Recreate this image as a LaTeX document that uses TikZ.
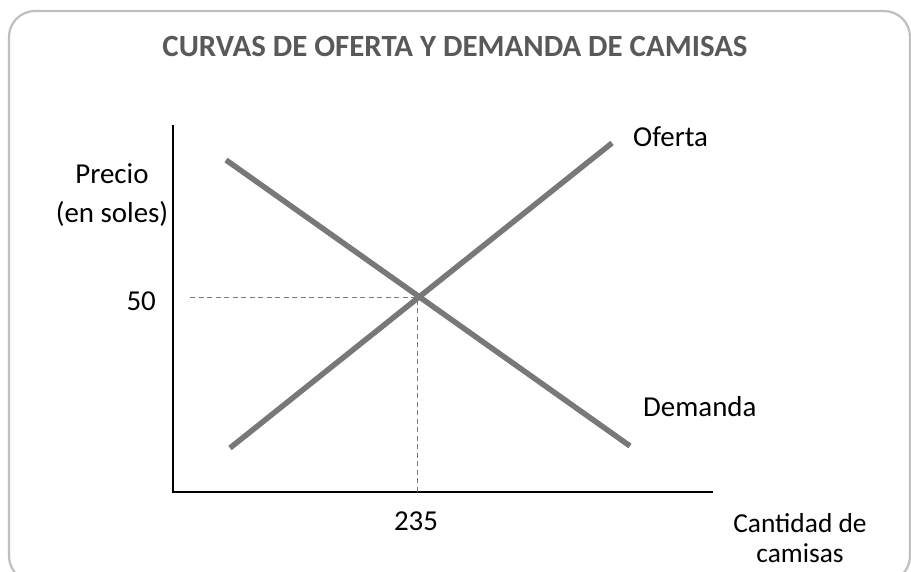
\documentclass[tikz,border=0pt]{standalone}
\usepackage{fontspec}
\setmainfont{Carlito}
\usetikzlibrary{arrows}
\tikzset{>=latex}
\definecolor{curveColour}{RGB}{120,120,120}
\definecolor{titleColour}{RGB}{89,89,89}
\definecolor{frameColour}{RGB}{191,191,191}
\tikzset{
	curve/.style={draw=curveColour, line width=5.5bp},
	guide/.style={draw=curveColour, line width=0.9bp, dash pattern=on 5bp off 3.5bp},
	lbl/.style={inner sep=0pt, font=\fontsize{29}{33}\selectfont}
}
\begin{document}
\begin{tikzpicture}[x=1bp, y=-1bp]
		\useasboundingbox (0, 0) rectangle (911, 572);
		% the frame
		\begin{scope}
			\clip (0, 0) rectangle (911, 572);
			\draw[draw=frameColour, line width=2.2bp, rounded corners=26bp] (9, 11) rectangle (910, 582);
		\end{scope}

		% the title
		\node[inner sep=0pt, text=titleColour, font=\fontsize{31}{36}\selectfont\bfseries] (title) at (455, 46) {CURVAS DE OFERTA Y DEMANDA DE CAMISAS};

		% the axes
		\coordinate (origin) at (173, 492);
		\coordinate (yTop) at (173, 125);
		\coordinate (xEnd) at (713, 492);
		\draw[line width=1.3bp] (yTop) -- (origin) -- (xEnd);

		% the curves
		\coordinate (supplyLow) at (230, 448);
		\coordinate (supplyHigh) at (612, 143);
		\coordinate (demandHigh) at (226, 160);
		\coordinate (demandLow) at (630, 446);
		\coordinate (eq) at (417, 297);
		\coordinate (priceEnd) at (190, 297);
		\coordinate (qtyEnd) at (417, 492);
		\draw[guide] (priceEnd) -- (eq) -- (qtyEnd);
		\draw[curve] (demandHigh) -- (demandLow);
		\draw[curve] (supplyLow) -- (supplyHigh);

		% the text
		\node[lbl, anchor=west] (oferta) at (633, 137) {Oferta};
		\node[lbl, anchor=west] (demanda) at (643, 407) {Demanda};
		\node[lbl] (precio) at (112, 174) {Precio};
		\node[lbl] (soles) at (112, 214) {(en soles)};
		\node[lbl, anchor=east] (price) at (156, 301) {50};
		\node[lbl] (qty) at (416, 521) {235};
		\node[lbl, font=\fontsize{27.5}{32}\selectfont] (cantidad) at (800, 523) {Cantidad de};
		\node[lbl, font=\fontsize{27.5}{32}\selectfont] (camisas) at (800, 553) {camisas};
	\end{tikzpicture}
\end{document}
